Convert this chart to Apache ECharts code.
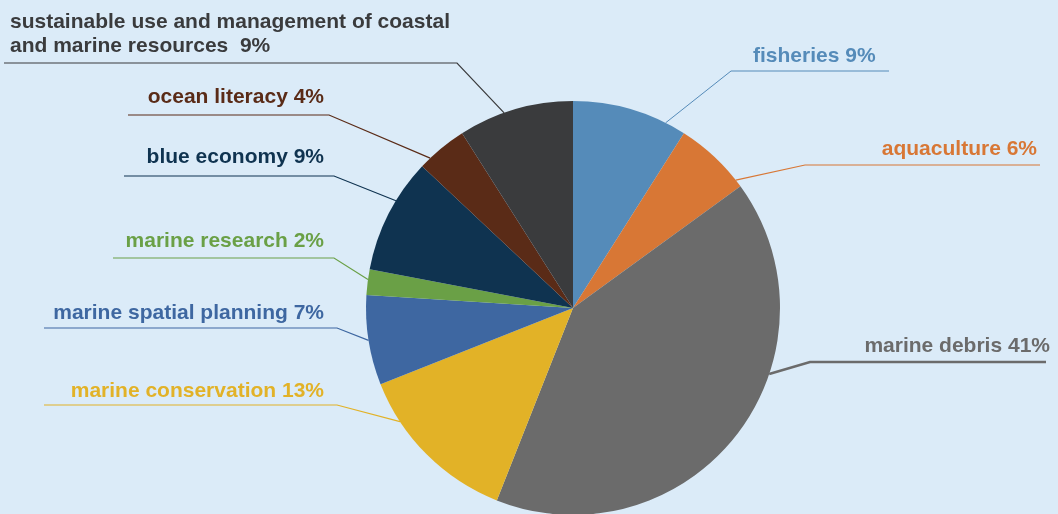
<!DOCTYPE html>
<html>
<head>
<meta charset="utf-8">
<script src="https://cdn.jsdelivr.net/npm/echarts@6/dist/echarts.min.js"></script>
<style>
  html, body { margin: 0; padding: 0; background: #DBEBF8; }
  #chart { width: 1058px; height: 514px; }
</style>
</head>
<body>
<div id="chart"></div>
<script>
// Topics, clockwise from twelve o'clock
const topics = [
  'fisheries',
  'aquaculture',
  'marine debris',
  'marine conservation',
  'marine spatial planning',
  'marine research',
  'blue economy',
  'ocean literacy',
  'sustainable use and management of coastal\nand marine resources '
];
// Share of each topic, in percent
const shares = [9, 6, 41, 13, 7, 2, 9, 4, 9];
const sliceColors = [
  '#558BB9', '#D87735', '#6B6B6B', '#E2B227', '#3E67A1',
  '#6AA046', '#0F3350', '#5A2B17', '#3A3B3D'
];

// Callout placement: text edge, baseline, underline, and where along
// its slice's arc (0 = start, 1 = end) the leader line touches the pie
const callouts = [
  { align: 'left',  textX: 753,  baseY: 62,  lineY: 71,  elbowX: 731, endX: 889,  along: 0.82, w: 1 },
  { align: 'right', textX: 1037, baseY: 155, lineY: 165, elbowX: 805, endX: 1040, along: 0.9,  w: 1.2 },
  { align: 'right', textX: 1050, baseY: 352, lineY: 362, elbowX: 810, endX: 1046, along: 0.37, w: 2.5 },
  { align: 'right', textX: 324,  baseY: 397, lineY: 405, elbowX: 337, endX: 44,   along: 0.75, w: 1.2 },
  { align: 'right', textX: 324,  baseY: 319, lineY: 328, elbowX: 337, endX: 44,   along: 0.5,  w: 1.2 },
  { align: 'right', textX: 324,  baseY: 247, lineY: 258, elbowX: 334, endX: 113,  along: 0.6,  w: 1.2 },
  { align: 'right', textX: 324,  baseY: 163, lineY: 176, elbowX: 334, endX: 124,  along: 0.63, w: 1.2 },
  { align: 'right', textX: 324,  baseY: 103, lineY: 115, elbowX: 329, endX: 128,  along: 0.22, w: 1.2 },
  { align: 'left',  textX: 10,   baseY: 52,  lineY: 63,  elbowX: 457, endX: 4,    along: 0.4,  w: 1.2 }
];

const CENTER = [573, 308];
const RADIUS = 207;
const FONT_SIZE = 21;
const LINE_H = 24;

const total = shares.reduce((a, b) => a + b, 0);
const startFrac = shares.map((_, i) => shares.slice(0, i).reduce((a, b) => a + b, 0) / total);

// Point on the pie rim for a callout, clockwise from twelve o'clock
function rimPoint(i) {
  const frac = startFrac[i] + callouts[i].along * shares[i] / total;
  const ang = frac * 2 * Math.PI;
  return [CENTER[0] + RADIUS * Math.sin(ang), CENTER[1] - RADIUS * Math.cos(ang)];
}

const chart = echarts.init(document.getElementById('chart'));

const data = topics.map((name, i) => ({
  name: name,
  value: shares[i],
  itemStyle: { color: sliceColors[i] },
  label: { color: sliceColors[i] },
  labelLine: { lineStyle: { color: sliceColors[i], width: callouts[i].w } }
}));

chart.setOption({
  backgroundColor: '#DBEBF8',
  animation: false,
  series: [{
    type: 'pie',
    center: CENTER,
    radius: RADIUS,
    startAngle: 90,
    clockwise: true,
    avoidLabelOverlap: false,
    data: data,
    label: {
      show: true,
      position: 'outside',
      fontFamily: '"Liberation Sans", Arial, sans-serif',
      fontWeight: 'bold',
      fontSize: FONT_SIZE,
      lineHeight: LINE_H,
      formatter: p => p.name + ' ' + p.value + '%'
    },
    labelLine: { show: true, length: 20, length2: 20, smooth: false },
    labelLayout: function (params) {
      const i = params.dataIndex;
      const c = callouts[i];
      return {
        x: c.textX,
        y: c.baseY + 6,
        align: c.align,
        verticalAlign: 'bottom',
        labelLinePoints: [rimPoint(i), [c.elbowX, c.lineY], [c.endX, c.lineY]]
      };
    }
  }]
});
</script>
</body>
</html>
